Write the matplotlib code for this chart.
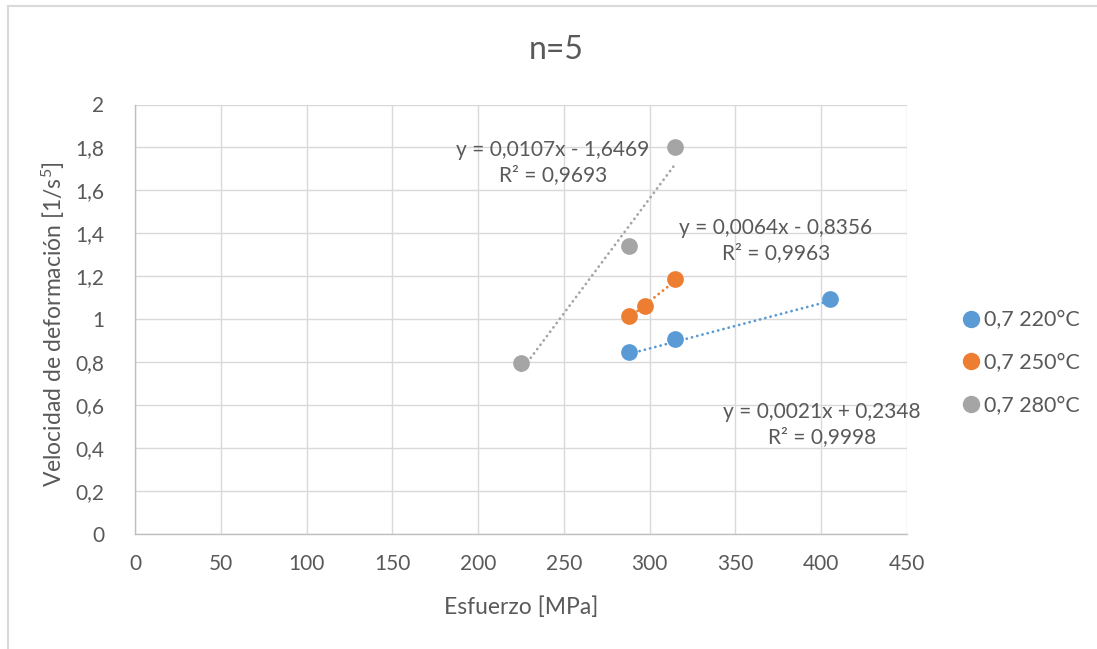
import numpy as np
import matplotlib
matplotlib.use("Agg")
import matplotlib.pyplot as plt
from matplotlib.lines import Line2D
from matplotlib.ticker import FuncFormatter, MultipleLocator

plt.rcParams['font.family'] = ['Lato', 'DejaVu Sans']
plt.rcParams['mathtext.fontset'] = 'custom'
plt.rcParams['mathtext.rm'] = 'Lato'
plt.rcParams['mathtext.it'] = 'Lato:italic'

# Series data: stress [MPa] vs strain rate
series_names = ['0,7 220°C', '0,7 250°C', '0,7 280°C']
x_220 = [288, 315, 405]
y_220 = [0.846, 0.908, 1.097]
x_250 = [288, 297, 315]
y_250 = [1.015, 1.064, 1.186]
x_280 = [225, 288, 315]
y_280 = [0.797, 1.342, 1.803]

# Linear trendline coefficients (slope, intercept) and R²
slopes = [0.0021, 0.0064, 0.0107]
intercepts = [0.2348, -0.8356, -1.6469]
r_squared = [0.9998, 0.9963, 0.9693]

colors = ['#5B9BD5', '#ED7D31', '#A5A5A5']
text_color = '#595959'

xs = [x_220, x_250, x_280]
ys = [y_220, y_250, y_280]
# label anchor positions (data coords) for the trendline equations
label_pos = [(400.5, 0.512), (373.5, 1.367), (243.5, 1.730)]


def fmt_num(v):
    return f"{v:g}".replace('.', ',')


def equation(m, b, r2):
    sign = '+' if b >= 0 else '-'
    eq = f"y = {m:.4f}x {sign} {abs(b):.4f}".replace('.', ',')
    r = f"R² = {r2:.4f}".replace('.', ',')
    return eq + "\n" + r


W, H = 1097, 649
fig = plt.figure(figsize=(W / 100, H / 100), dpi=100)
fig.patch.set_facecolor('white')

# chart border (top and left visible)
fig.add_artist(Line2D([8 / W, 1], [1 - 6 / H, 1 - 6 / H], transform=fig.transFigure,
                      color='#D9D9D9', lw=1.5))
fig.add_artist(Line2D([8 / W, 8 / W], [0, 1 - 6 / H], transform=fig.transFigure,
                      color='#D9D9D9', lw=1.5))

left, right, top, bottom = 135, 907, 104.5, 534.3
ax = fig.add_axes([left / W, 1 - bottom / H, (right - left) / W, (bottom - top) / H])

ax.set_xlim(0, 450)
ax.set_ylim(0, 2)
ax.xaxis.set_major_locator(MultipleLocator(50))
ax.yaxis.set_major_locator(MultipleLocator(0.2))
ax.xaxis.set_major_formatter(FuncFormatter(lambda v, p: fmt_num(round(v, 6))))
ax.yaxis.set_major_formatter(FuncFormatter(lambda v, p: fmt_num(round(v, 6))))
ax.grid(True, color='#D9D9D9', lw=1.0)
ax.set_axisbelow(True)
for s in ['top', 'right']:
    ax.spines[s].set_visible(False)
for s in ['left', 'bottom']:
    ax.spines[s].set_color('#BFBFBF')
    ax.spines[s].set_linewidth(1.0)
ax.tick_params(length=0, labelsize=15, colors=text_color)
ax.tick_params(axis='y', pad=22)
ax.tick_params(axis='x', pad=14)

for i in range(3):
    m, b = slopes[i], intercepts[i]
    x0, x1 = min(xs[i]), max(xs[i])
    xl = np.array([x0, x1])
    ax.plot(xl, m * xl + b, color=colors[i], lw=2.0,
            linestyle=(0, (0.05, 1.9)), dash_capstyle='round', zorder=2)

handles = []
for i in range(3):
    ax.scatter(xs[i], ys[i], s=145, color=colors[i], zorder=3, linewidths=0)
    handles.append(Line2D([], [], color=colors[i], marker='o', linestyle='None',
                          markersize=11.5, label=series_names[i]))

for i in range(3):
    ax.text(label_pos[i][0], label_pos[i][1], equation(slopes[i], intercepts[i], r_squared[i]),
            ha='center', va='center', fontsize=15, color=text_color,
            linespacing=1.3, zorder=4)

ax.set_xlabel('Esfuerzo [MPa]', fontsize=16.5, color=text_color)
ax.xaxis.set_label_coords(0.5, -(596 - bottom) / (bottom - top))
ax.set_ylabel(r'Velocidad de deformación [1/s$^{5}$]', fontsize=16.5, color=text_color)
ax.yaxis.set_label_coords(-(left - 67) / (right - left), 0.49)

fig.text(556 / W, 1 - 50 / H, 'n=5', ha='center', va='center', fontsize=23, color=text_color)

leg = fig.legend(handles=handles, loc='center left', bbox_to_anchor=(962 / W, 1 - 363 / H),
                 frameon=False, fontsize=15.5, handlelength=0.8, handletextpad=0.2,
                 labelspacing=1.05, borderpad=0, borderaxespad=0)
for t in leg.get_texts():
    t.set_color(text_color)

fig.savefig('out.png', dpi=100)
